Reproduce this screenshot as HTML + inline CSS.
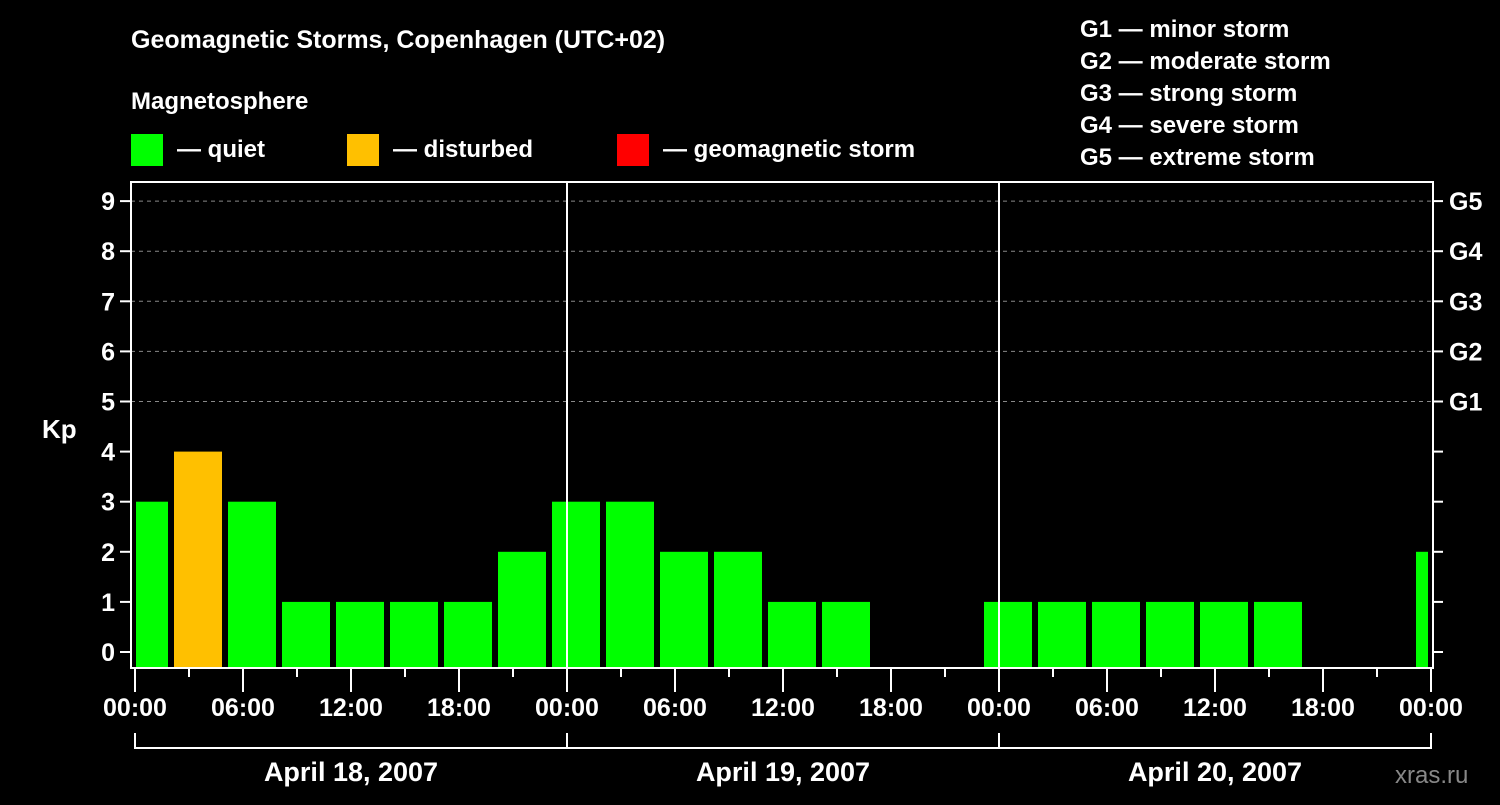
<!DOCTYPE html>
<html><head><meta charset="utf-8"><style>
body{margin:0;background:#000;width:1500px;height:800px;overflow:hidden}
svg text{font-family:"Liberation Sans",sans-serif;font-weight:bold;fill:#fff}
</style></head><body>
<svg id="c" width="1500" height="800">
<text x="131" y="48" font-size="25">Geomagnetic Storms, Copenhagen (UTC+02)</text>
<text x="131" y="109" font-size="24">Magnetosphere</text>
<g><rect x="131" y="134" width="32" height="32" fill="#00ff00"/><text x="177" y="157" font-size="24">— quiet</text></g>
<g><rect x="347" y="134" width="32" height="32" fill="#ffc000"/><text x="393" y="157" font-size="24">— disturbed</text></g>
<g><rect x="617" y="134" width="32" height="32" fill="#ff0000"/><text x="663" y="157" font-size="24">— geomagnetic storm</text></g>
<g font-size="24">
<text x="1080" y="37">G1 — minor storm</text><text x="1080" y="69">G2 — moderate storm</text><text x="1080" y="101">G3 — strong storm</text><text x="1080" y="133">G4 — severe storm</text><text x="1080" y="165">G5 — extreme storm</text></g>
<text x="42" y="438" font-size="26">Kp</text>
<text x="1395" y="783" font-size="24" fill="#888" style="fill:#888;font-weight:normal">xras.ru</text>
<g id="grid"></g><g id="bars"></g><g id="axes"></g>
</svg>
<script>
const kpValues=[3,4,3,1,1,1,1,2, 3,3,2,2,1,1,null,null, 1,1,1,1,1,1,null,null, 2];
const yTicks=[0,1,2,3,4,5,6,7,8,9];
const gLabels=["G1","G2","G3","G4","G5"];
const xLabels=["00:00","06:00","12:00","18:00","00:00","06:00","12:00","18:00","00:00","06:00","12:00","18:00","00:00"];
const dayLabels=["April 18, 2007","April 19, 2007","April 20, 2007"];
const NS="http://www.w3.org/2000/svg";
const L=131,R=1433,T=182,B=668,X0=135,PXH=18;
const y=v=>652-v*50.1, x=h=>X0+h*PXH;
function mk(p,t,a){const e=document.createElementNS(NS,t);for(const k in a)e.setAttribute(k,a[k]);document.getElementById(p).appendChild(e);return e;}
const col=v=>v>=5?"#ff0000":v>=4?"#ffc000":"#00ff00";
for(let i=5;i<=9;i++){const g=mk("grid","line",{x1:L,x2:R,y1:y(i),y2:y(i),stroke:"#888","stroke-dasharray":"4,4"});

}
kpValues.forEach((v,k)=>{if(v===null)return;let x1=Math.max(x(3*k-1)+3,L+5),x2=Math.min(x(3*k+2)-3,R-5);
const r=mk("bars","rect",{x:x1,y:y(v),width:x2-x1,height:B-1-y(v),fill:col(v)});

});
const A={stroke:"#fff","stroke-width":2};
const fr=mk("axes","rect",{x:L,y:T,width:R-L,height:B-T,fill:"none",stroke:"#fff","stroke-width":2});


[1,2].forEach(d=>{mk("axes","line",Object.assign({x1:x(24*d),x2:x(24*d),y1:T,y2:B},A));});
yTicks.forEach(v=>{mk("axes","line",Object.assign({x1:L-11,x2:L,y1:y(v),y2:y(v)},A));mk("axes","line",Object.assign({x1:R,x2:R+10,y1:y(v),y2:y(v)},A));
const t=mk("axes","text",{x:L-16,y:y(v)+9,"font-size":25,"text-anchor":"end"});t.textContent=v;

});
gLabels.forEach((g,i)=>{const t=mk("axes","text",{x:R+16,y:y(5+i)+9,"font-size":25});t.textContent=g;

});
for(let h=0;h<=72;h+=3){mk("axes","line",Object.assign({x1:x(h),x2:x(h),y1:B,y2:B+(h%6?9:24)},A));}
xLabels.forEach((s,i)=>{const t=mk("axes","text",{x:x(6*i),y:716,"font-size":25,"text-anchor":"middle"});t.textContent=s;

});
mk("axes","line",Object.assign({x1:x(0),x2:x(72),y1:748,y2:748},A));
for(let d=0;d<=3;d++)mk("axes","line",Object.assign({x1:x(24*d),x2:x(24*d),y1:733,y2:749},A));
dayLabels.forEach((s,i)=>{const t=mk("axes","text",{x:x(24*i+12),y:781,"font-size":27,"text-anchor":"middle"});t.textContent=s;

});
</script>
</body></html>
